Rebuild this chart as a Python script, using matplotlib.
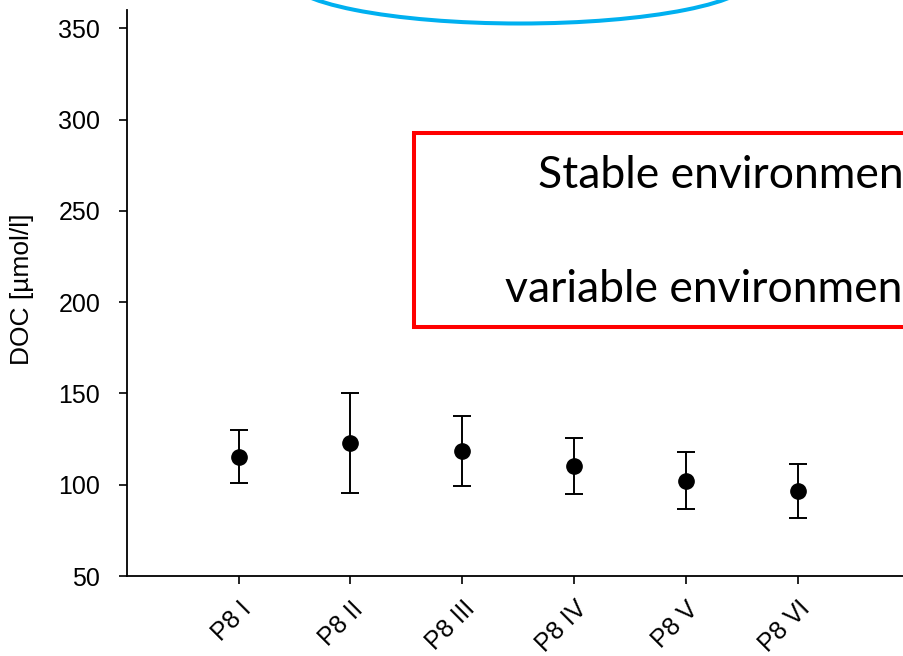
import matplotlib
matplotlib.use("Agg")
import matplotlib.pyplot as plt
from matplotlib.patches import Ellipse, Rectangle

# ---- data ----
categories = ["P8 I", "P8 II", "P8 III", "P8 IV", "P8 V", "P8 VI"]
doc_mean = [115.4, 123.1, 118.6, 110.3, 102.3, 96.6]
doc_upper = [129.7, 150.5, 137.4, 125.8, 117.8, 111.3]
doc_lower = [101.2, 95.7, 99.4, 94.8, 86.7, 82.0]
y_ticks = [50, 100, 150, 200, 250, 300, 350]
# the text box runs past the right edge of the picture; visible part only
box_lines = ["Stable environmen", "variable environmen"]
y_label = "DOC [µmol/l]"

W, H = 904, 656
fig = plt.figure(figsize=(W / 100, H / 100), dpi=100)
fig.patch.set_facecolor("white")

# axes placement (pixels -> figure fraction)
left_px, right_px, top_px, bottom_px = 126.7, 910.0, 10.0, 576.0
ax = fig.add_axes([left_px / W, (H - bottom_px) / H,
                   (right_px - left_px) / W, (bottom_px - top_px) / H])

x = list(range(len(categories)))
err_lo = [m - l for m, l in zip(doc_mean, doc_lower)]
err_hi = [u - m for m, u in zip(doc_mean, doc_upper)]
ax.errorbar(x, doc_mean, yerr=[err_lo, err_hi], fmt="o", color="black",
            ecolor="black", markersize=11, elinewidth=1.4, capsize=6.3,
            capthick=1.4, zorder=3)

ax.set_xlim(-1, 6)
ax.set_ylim(50, 360)
ax.set_yticks(y_ticks)
ax.set_xticks(x)
ax.set_xticklabels(categories, rotation=45, ha="right", rotation_mode="anchor",
                   fontsize=18, family="Liberation Sans")
for lab in ax.get_yticklabels():
    lab.set_fontsize(18)
    lab.set_family("Liberation Sans")
ax.tick_params(axis="both", direction="out", length=6, width=1.2, colors="black")
ax.tick_params(axis="y", pad=13)
ax.tick_params(axis="x", pad=9)
for s in ["top", "right"]:
    ax.spines[s].set_visible(False)
for s in ["left", "bottom"]:
    ax.spines[s].set_linewidth(1.3)
    ax.spines[s].set_color("black")

ax.set_ylabel(y_label, fontsize=19, family="Liberation Sans")
ax.yaxis.set_label_coords(-0.1185, 0.506)

# blue ellipse overlay (top, partially outside the figure)
ell = Ellipse((520 / W, 1 + 23 / H), 468 / W, 93 / H, transform=fig.transFigure,
              fill=False, edgecolor="#00B0F0", linewidth=2.9, clip_on=False)
fig.add_artist(ell)

# red text box (extends beyond the right edge)
rect = Rectangle((414.3 / W, (H - 327.3) / H), (1000 - 414.3) / W, (327.3 - 133.3) / H,
                 transform=fig.transFigure, facecolor="white", edgecolor="#FF0000",
                 linewidth=2.9, clip_on=False, zorder=5)
fig.add_artist(rect)
fig.text(538 / W, (H - 188.3) / H, box_lines[0], fontsize=32, family="Lato",
         ha="left", va="baseline", color="black", zorder=6)
fig.text(505 / W, (H - 301.7) / H, box_lines[1], fontsize=32, family="Lato",
         ha="left", va="baseline", color="black", zorder=6)

fig.savefig("out.png", dpi=100)
